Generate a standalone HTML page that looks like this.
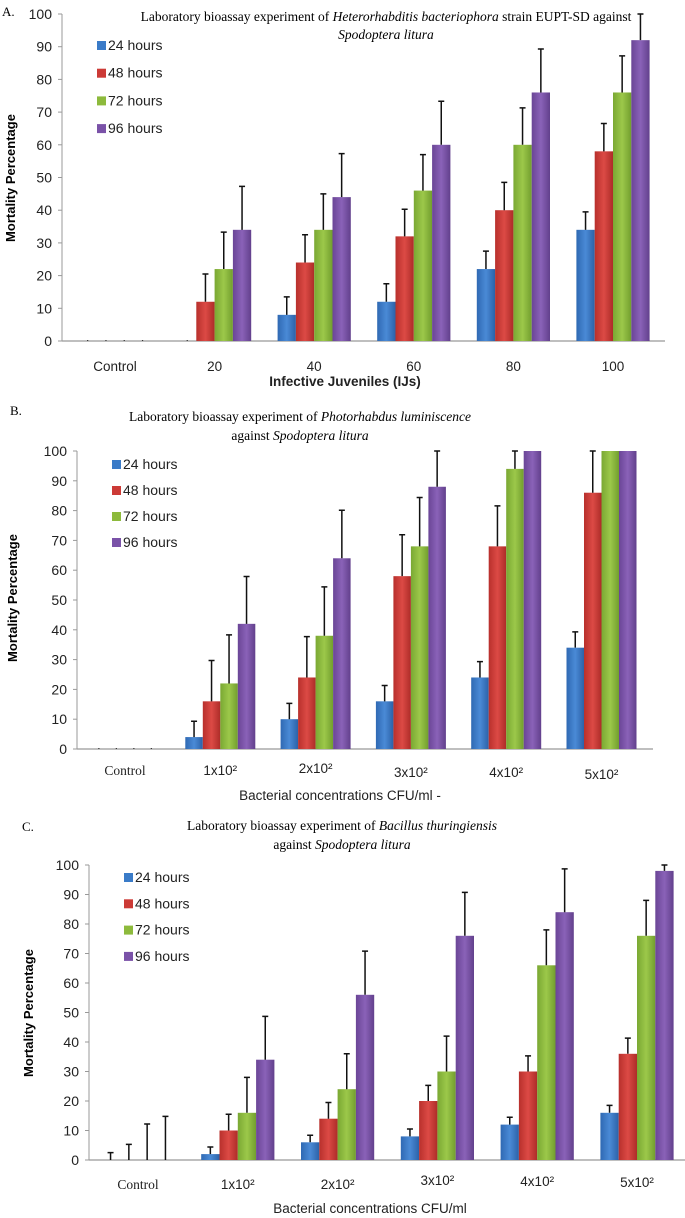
<!DOCTYPE html>
<html><head><meta charset="utf-8"><style>
body{margin:0;background:#fff}
svg{display:block}
.serif{font-family:"Liberation Serif",serif}
.sans{font-family:"Liberation Sans",sans-serif}
</style></head><body>
<svg id="fig" width="685" height="1218" viewBox="0 0 685 1218" xmlns="http://www.w3.org/2000/svg">
<defs>
<linearGradient id="gb" x1="0" x2="1"><stop offset="0" stop-color="#2f69b3"/><stop offset="0.5" stop-color="#4a8ad6"/><stop offset="1" stop-color="#2c62a8"/></linearGradient>
<linearGradient id="gr" x1="0" x2="1"><stop offset="0" stop-color="#b8302c"/><stop offset="0.5" stop-color="#dc4a45"/><stop offset="1" stop-color="#ad2c28"/></linearGradient>
<linearGradient id="gg" x1="0" x2="1"><stop offset="0" stop-color="#7aa833"/><stop offset="0.5" stop-color="#9cc84a"/><stop offset="1" stop-color="#729e2e"/></linearGradient>
<linearGradient id="gp" x1="0" x2="1"><stop offset="0" stop-color="#6a4596"/><stop offset="0.5" stop-color="#8a62b8"/><stop offset="1" stop-color="#62408c"/></linearGradient>
</defs>
<text class="serif" x="2" y="16" font-size="13">A.</text>
<text class="serif" x="386" y="21" font-size="13.5" text-anchor="middle">Laboratory bioassay experiment of <tspan font-style="italic">Heterorhabditis bacteriophora</tspan> strain EUPT-SD against</text>
<text class="serif" x="386" y="39" font-size="13.5" text-anchor="middle" font-style="italic">Spodoptera litura</text>
<text class="serif" x="10" y="415" font-size="13">B.</text>
<text class="serif" x="300" y="421" font-size="13.5" text-anchor="middle">Laboratory bioassay experiment of <tspan font-style="italic">Photorhabdus luminiscence</tspan></text>
<text class="serif" x="300" y="440" font-size="13.5" text-anchor="middle">against <tspan font-style="italic">Spodoptera litura</tspan></text>
<text class="serif" x="22" y="831" font-size="13">C.</text>
<text class="serif" x="342" y="830" font-size="13.5" text-anchor="middle">Laboratory bioassay experiment of <tspan font-style="italic">Bacillus thuringiensis</tspan></text>
<text class="serif" x="342" y="849" font-size="13.5" text-anchor="middle">against <tspan font-style="italic">Spodoptera litura</tspan></text>
</svg>
<script>
const seriesNames=["24 hours","48 hours","72 hours","96 hours"];
const yTicks=[0,10,20,30,40,50,60,70,80,90,100];
const aCats=["Control","20","40","60","80","100"];
const aBlue=[0,0,8,12,22,34];
const aRed=[0,12,24,32,40,58];
const aGreen=[0,22,34,46,60,76];
const aPurple=[0,34,44,60,76,92];
const aErrBlue=[0,0,13.5,17.5,27.5,39.5];
const aErrRed=[0,20.5,32.5,40.3,48.5,66.5];
const aErrGreen=[0,33.3,45,57,71.3,87.2];
const aErrPurple=[0,47.3,57.3,73.3,89.3,100];
const bCats=["Control","1x10²","2x10²","3x10²","4x10²","5x10²"];
const bBlue=[0,4,10,16,24,34];
const bRed=[0,16,24,58,68,86];
const bGreen=[0,22,38,68,94,100];
const bPurple=[0,42,64,88,100,100];
const bErrBlue=[0,9.3,15.3,21.3,29.3,39.3];
const bErrRed=[0,29.7,37.7,71.9,81.6,100];
const bErrGreen=[0,38.3,54.4,84.4,100,100];
const bErrPurple=[0,57.9,80.1,100,100,100];
const cCats=["Control","1x10²","2x10²","3x10²","4x10²","5x10²"];
const cBlue=[0,2,6,8,12,16];
const cRed=[0,10,14,20,30,36];
const cGreen=[0,16,24,30,66,76];
const cPurple=[0,34,56,76,84,98];
const cErrBlue=[2.5,4.4,8.4,10.5,14.5,18.5];
const cErrRed=[5.3,15.5,19.5,25.3,35.3,41.3];
const cErrGreen=[12.2,28,36,42,78,88];
const cErrPurple=[14.8,48.7,70.8,90.7,98.7,100];

const NS="http://www.w3.org/2000/svg";
const svg=document.getElementById('fig');
function mk(tag,attrs,parent){const e=document.createElementNS(NS,tag);for(const k in attrs)e.setAttribute(k,attrs[k]);(parent||svg).appendChild(e);return e;}
const fills=["url(#gb)","url(#gr)","url(#gg)","url(#gp)"];
const swatch=["#3a7bc8","#cc3a36","#8dba3c","#7a52a8"];

function panel(p,cats,vals,errs){
  const g=mk('g',{});
  
  
  const y=v=>p.y0-(v/100)*(p.y0-p.y100);
  const cx=i=>p.c0+i*p.step;
  const bw=p.bw;
  const ya=mk('line',{x1:p.ax,x2:p.ax,y1:p.y100,y2:p.y0,stroke:'#999','stroke-width':1},g);
  
  
  const xa=mk('line',{x1:p.ax,x2:p.xr,y1:p.y0,y2:p.y0,stroke:'#999','stroke-width':1.2},g);
  
  
  yTicks.forEach(t=>{
    const tl=mk('line',{x1:p.ax-4,x2:p.ax,y1:y(t),y2:y(t),stroke:'#999'},g);
    
    
    const tx=mk('text',{x:p.ax-10,y:y(t)+5,'font-size':14,'text-anchor':'end',class:'sans',fill:'#222'},g);
    tx.textContent=t;
    
    
  });
  cats.forEach((c,i)=>{
    const tx=mk('text',{x:cx(i),y:p.xl+(p.xlOff?p.xlOff[i]:0),'font-size':13.5,'text-anchor':'middle',class:(p.serifCats&&(i==0||p.allSerif))?'serif':'sans',fill:'#222'},g);
    tx.textContent=c;
    
    
    for(let s=0;s<4;s++){
      const bx=cx(i)-2*bw+s*bw;
      const v=vals[s][i];
      if(v>0){
        const r=mk('rect',{x:bx,y:y(v),width:bw,height:y(0)-y(v),fill:fills[s]},g);
        
        
      }
      const e=errs[s][i];
      if(e>v){
        const ex=bx+bw/2;
        const el=mk('path',{d:`M${ex},${y(v)}V${y(e)}M${ex-3},${y(e)}H${ex+3}`,stroke:'#111','stroke-width':1.5,fill:'none'},g);
        
        
      } else if(v===0){
        const d=mk('rect',{x:bx+bw/2-0.5,y:y(0)-1,width:1.2,height:1,fill:'#333'},g);
        
        
      }
    }
  });
  seriesNames.forEach((n,s)=>{
    const ly=p.leg[1]+s*p.legStep;
    const sq=mk('rect',{x:p.leg[0],y:ly-9,width:9,height:9,fill:swatch[s]},g);
    
    
    const t=mk('text',{x:p.leg[0]+11,y:ly,'font-size':14,class:'sans',fill:'#222'},g);
    t.textContent=n;
    
    
  });
  const yt=mk('text',{x:0,y:0,'font-size':13,'font-weight':'bold',class:'sans','text-anchor':'middle',transform:`translate(${p.yt[0]},${p.yt[1]}) rotate(-90)`},g);
  yt.textContent='Mortality Percentage';
  
  
  const xt=mk('text',{x:p.xt[0],y:p.xt[1],'font-size':13.5,'font-weight':p.xtBold?'bold':'normal',class:'sans','text-anchor':'middle',fill:'#222'},g);
  xt.textContent=p.xtText;
  
  
}

panel({id:'a',ax:62,xr:665,y100:14,y0:341,c0:115,step:99.6,bw:18.3,xl:371,leg:[97,50],legStep:27.7,yt:[15,178],xt:[345,386],xtText:'Infective Juveniles (IJs)',xtBold:true},
  aCats,[aBlue,aRed,aGreen,aPurple],[aErrBlue,aErrRed,aErrGreen,aErrPurple]);
panel({id:'b',ax:77,xr:653,y100:451,y0:749,c0:125,step:95.3,bw:17.5,xl:775,xlOff:[0,0,-2,2,2,4],serifCats:true,leg:[112,469],legStep:26,yt:[17,598],xt:[340,800],xtText:'Bacterial concentrations CFU/ml -',xtBold:false},
  bCats,[bBlue,bRed,bGreen,bPurple],[bErrBlue,bErrRed,bErrGreen,bErrPurple]);
panel({id:'c',ax:89,xr:685,y100:865,y0:1160,c0:138,step:99.8,bw:18.3,xl:1189,xlOff:[0,0,0,-4,-3,-2],serifCats:true,leg:[124,882],legStep:26.3,yt:[33,1013],xt:[370,1213],xtText:'Bacterial concentrations CFU/ml',xtBold:false},
  cCats,[cBlue,cRed,cGreen,cPurple],[cErrBlue,cErrRed,cErrGreen,cErrPurple]);
</script>
</body></html>
